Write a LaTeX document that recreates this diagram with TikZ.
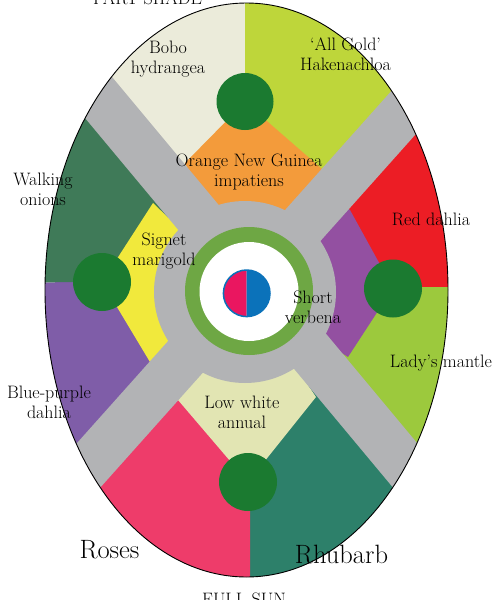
\documentclass[tikz,border=0pt]{standalone}
\usepackage{fontspec}
\usepackage{tikz}
\definecolor{cream}{HTML}{EBEBDA}
\definecolor{allgold}{HTML}{BED63A}
\definecolor{impatiens}{HTML}{F39B3B}
\definecolor{plantgreen}{HTML}{1B7A30}
\definecolor{onions}{HTML}{3F7A58}
\definecolor{marigold}{HTML}{F1E93C}
\definecolor{bluepurple}{HTML}{7F5DA8}
\definecolor{reddahlia}{HTML}{EC1D25}
\definecolor{verbena}{HTML}{9350A1}
\definecolor{mantle}{HTML}{9CC93D}
\definecolor{lowwhite}{HTML}{E2E5B3}
\definecolor{roses}{HTML}{EE3C6A}
\definecolor{rhubarb}{HTML}{2D806A}
\definecolor{pathgray}{HTML}{B2B3B5}
\definecolor{ringgreen}{HTML}{6EA744}
\definecolor{pinkhalf}{HTML}{EA1660}
\definecolor{bluehalf}{HTML}{0B72BA}

\begin{document}
\begin{tikzpicture}[x=1pt,y=-1pt,
    lbl/.style={align=center,inner sep=0pt,anchor=base,font=\fontsize{18}{20}\selectfont},
    biglbl/.style={inner sep=0pt,anchor=base,font=\fontsize{26.5}{30}\selectfont},
    walk/.style={draw=pathgray,line width=47pt},
    plant/.style={fill=plantgreen}]
    \useasboundingbox (0,0) rectangle (495,600);
    \coordinate (c) at (252.3,282);
    \coordinate (ul) at (-97.7,-138);
    \coordinate (lr) at (602.3,702);
    \coordinate (ur) at (602.3,-110);
    \coordinate (ll) at (-97.7,674);
    \begin{scope}
        \clip (246.5,290) ellipse (201.5 and 287);
        \fill[cream] (ul) -- (c) -- (245,282) -- (245,-150) -- (-97.7,-150) -- cycle;
        \fill[allgold] (245,-150) -- (245,282) -- (c) -- (ur) -- (602.3,-150) -- cycle;
        \fill[reddahlia] (c) -- (ur) -- (700,-110) -- (700,287) -- (252.3,287) -- cycle;
        \fill[mantle] (252.3,287) -- (700,287) -- (700,702) -- (lr) -- (c) -- cycle;
        \fill[rhubarb] (c) -- (lr) -- (250,702) -- (250,282) -- cycle;
        \fill[roses] (c) -- (250,282) -- (250,702) -- (ll) -- cycle;
        \fill[bluepurple] (c) -- (ll) -- (-150,674) -- (-150,282.5) -- cycle;
        \fill[onions] (c) -- (-150,282.5) -- (-150,-138) -- (ul) -- cycle;
        \fill[impatiens] (185,163) -- (245,102) -- (322,169) -- (248,292) -- cycle;
        \fill[marigold] (153,203) -- (102,282) -- (150,362) -- (245,292) -- cycle;
        \fill[verbena] (350,210) -- (393,288) -- (348,357) -- (245,292) -- (320,185) -- cycle;
        \fill[lowwhite] (178,400) -- (248,482) -- (316,397) -- (245,292) -- cycle;
        \draw[walk] (ul) -- (lr);
        \draw[walk] (ur) -- (ll);
    \end{scope}
    \fill[plant] (245,101.5) circle (28.5);
    \fill[plant] (102,282) circle (29);
    \fill[plant] (393,288.5) circle (29);
    \fill[plant] (248,482) circle (29);
    \fill[pathgray] (245,292) circle (91);
    \fill[ringgreen] (249,291) circle (64);
    \fill[white] (249,291.5) circle (49.5);
    \fill[pinkhalf] (246.7,316.6) arc (90:270:23.3) -- cycle;
    \fill[bluehalf] (246.7,270) arc (-90:90:23.3) -- cycle;
    \draw[bluehalf,line width=1.5pt] (246.7,293.3) circle (23.3);
    \draw[line width=0.9pt] (246.5,290) ellipse (201.5 and 287);
    \node[lbl] (shade) at (147.5,4) {PART SHADE};
    \node[lbl] (bobo) at (168,73) {Bobo\\hydrangea};
    \node[lbl] (gold) at (345.5,70) {`All Gold'\\Hakenachloa};
    \node[lbl] (impatiens) at (249,186.5) {Orange New Guinea\\impatiens};
    \node[lbl] (onions) at (43,205) {Walking\\onions};
    \node[lbl] (marigold) at (164,265) {Signet\\marigold};
    \node[lbl] (dahlia) at (431,225) {Red dahlia};
    \node[lbl] (verbena) at (313,323) {Short\\verbena};
    \node[lbl] (mantle) at (441,367) {Lady's mantle};
    \node[lbl] (bluedahlia) at (49,418) {Blue-purple\\dahlia};
    \node[lbl] (annual) at (242,428) {Low white\\annual};
    \node[biglbl] (roses) at (109.5,558) {Roses};
    \node[biglbl] (rhubarb) at (341.5,563) {Rhubarb};
    \node[lbl] (sun) at (244,605) {FULL SUN};
\end{tikzpicture}
\end{document}
